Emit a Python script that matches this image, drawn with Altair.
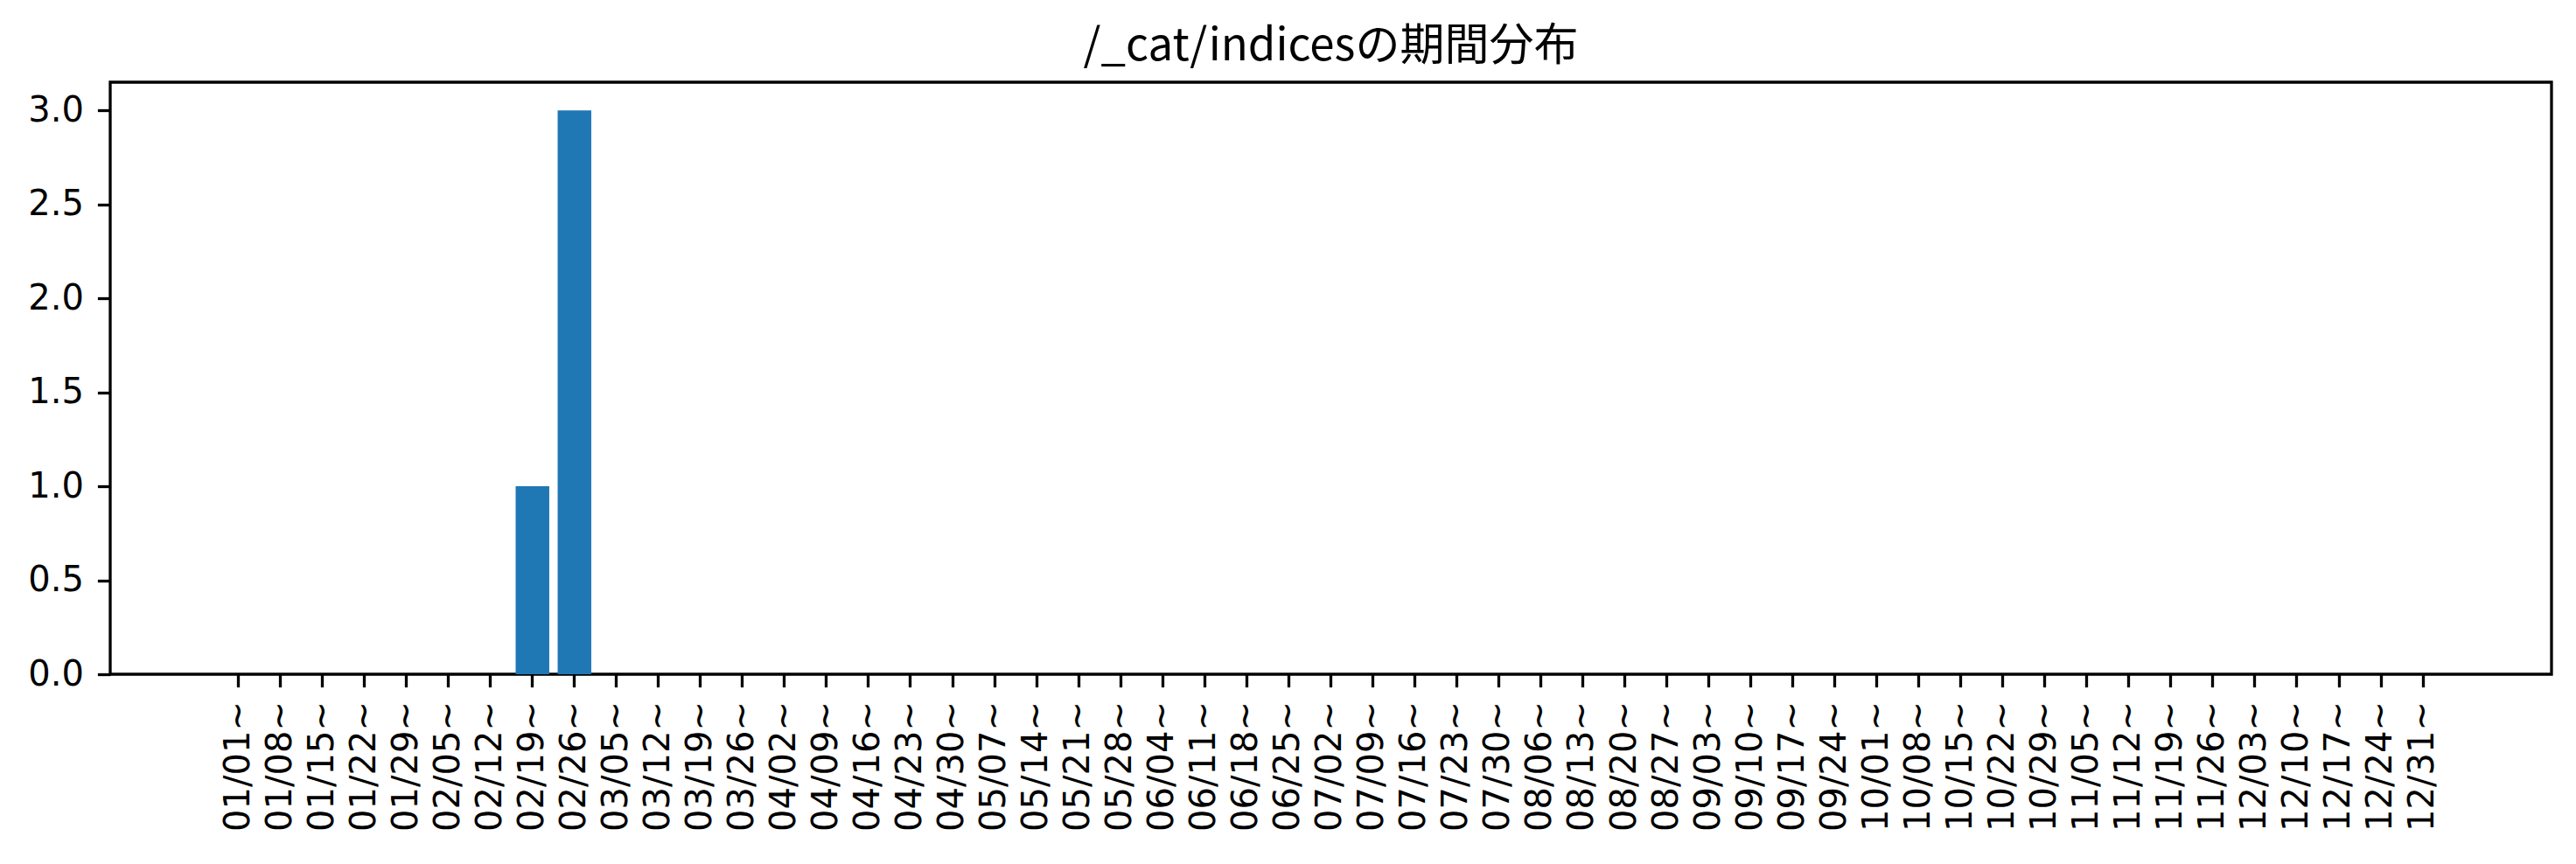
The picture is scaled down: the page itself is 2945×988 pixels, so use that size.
import altair as alt
import pandas as pd

weeks = [
    "01/01", "01/08", "01/15", "01/22", "01/29",
    "02/05", "02/12", "02/19", "02/26",
    "03/05", "03/12", "03/19", "03/26",
    "04/02", "04/09", "04/16", "04/23", "04/30",
    "05/07", "05/14", "05/21", "05/28",
    "06/04", "06/11", "06/18", "06/25",
    "07/02", "07/09", "07/16", "07/23", "07/30",
    "08/06", "08/13", "08/20", "08/27",
    "09/03", "09/10", "09/17", "09/24",
    "10/01", "10/08", "10/15", "10/22", "10/29",
    "11/05", "11/12", "11/19", "11/26",
    "12/03", "12/10", "12/17", "12/24", "12/31",
]
counts = [0] * 53
counts[7] = 1   # 02/19~
counts[8] = 3   # 02/26~

labels = [w + "~" for w in weeks]
y_ticks = [0.0, 0.5, 1.0, 1.5, 2.0, 2.5, 3.0]

df = pd.DataFrame({"week": labels, "count": counts})

W, H = 2791, 677
tick_font = "DejaVu Sans"

chart = (
    alt.Chart(df)
    .mark_bar(color="#1f77b4")
    .encode(
        x=alt.X(
            "week:N",
            sort=labels,
            scale=alt.Scale(paddingInner=0.2, paddingOuter=0, range=[127.3, 2663.3]),
            axis=alt.Axis(
                title=None,
                labelAngle=270,
                labelAlign="right",
                labelBaseline="middle",
                labelFont=tick_font,
                labelFontSize=40,
                labelColor="black",
                labelPadding=16,
                tickSize=14.6,
                tickWidth=3.3,
                tickColor="black",
                domain=False,
                grid=False,
                labelOverlap=False,
            ),
        ),
        y=alt.Y(
            "count:Q",
            scale=alt.Scale(domain=[0, 3.15], nice=False, zero=True),
            axis=alt.Axis(
                title=None,
                values=y_ticks,
                format=".1f",
                labelFont=tick_font,
                labelFontSize=40,
                labelColor="black",
                labelPadding=16,
                tickSize=14.6,
                tickWidth=3.3,
                tickColor="black",
                domain=False,
                grid=False,
                labelOverlap=False,
            ),
        ),
    )
    .properties(
        width=W,
        height=H,
        background="white",
        title=alt.TitleParams(
            "/_cat/indicesの期間分布",
            font="Noto Sans CJK JP",
            fontSize=51,
            fontWeight="normal",
            color="black",
            anchor="middle",
            frame="group",
            baseline="bottom",
            offset=7,
            dy=44,
        ),
        autosize=alt.AutoSizeParams(type="none"),
        padding={"left": 126, "top": 94, "right": 28, "bottom": 217},
    )
    .configure_view(stroke="black", strokeWidth=3.3)
)

chart.save("out.html", embed_options={"renderer": "svg", "actions": False})
